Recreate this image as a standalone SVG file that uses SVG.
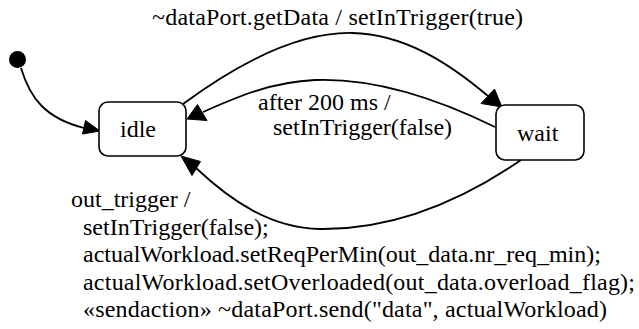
<svg xmlns="http://www.w3.org/2000/svg" width="639" height="329" viewBox="0 0 639 329">
<style>
.t{font-family:'Liberation Serif','Times New Roman',serif;font-size:24px;fill:#000}
.st{fill:#fff;stroke:#000;stroke-width:1.6}
.e{fill:none;stroke:#000;stroke-width:1.8}
.h{fill:#000;stroke:#000;stroke-width:1}
</style>
<rect width="639" height="329" fill="#fff"/>
<g id="connectors">
<path class="e" d="M21,68 C30,98 45,118 84,128"/>
<polygon class="h" points="100,131 82.5,134 85.5,120.5"/>
<path class="e" d="M183,104 C240,62 300,32 352,33 C405,34 450,64 488,96"/>
<polygon class="h" points="502,107 481,103.5 494.5,89"/>
<path class="e" d="M495,127 C430,95 370,78 315,80 C270,82 235,98 203,112"/>
<polygon class="h" points="187,119 197.5,104.5 207,120.5"/>
<path class="e" d="M521,160 C470,195 400,230 320,229 C270,228 230,200 196,168"/>
<polygon class="h" points="181,156 200.5,161.5 192,175.5"/>
</g>
<g id="init"><circle cx="17.5" cy="59.5" r="8.5" fill="#000"/></g>
<g id="idle">
<rect class="st" x="99" y="102" width="87" height="54" rx="9"/>
<text class="t" x="120" y="137">idle</text>
</g>
<g id="wait">
<rect class="st" x="496" y="105" width="88" height="55" rx="9"/>
<text class="t" x="517" y="141">wait</text>
</g>
<g id="labels">
<text class="t" x="152" y="25" textLength="371" lengthAdjust="spacing">~dataPort.getData / setInTrigger(true)</text>
<text class="t" x="258" y="110">after 200 ms /</text>
<text class="t" x="273" y="135">setInTrigger(false)</text>
<text class="t" x="71" y="207">out_trigger /</text>
<text class="t" x="83" y="234.5">setInTrigger(false);</text>
<text class="t" x="83" y="262">actualWorkload.setReqPerMin(out_data.nr_req_min);</text>
<text class="t" x="83" y="289.5" textLength="552" lengthAdjust="spacing">actualWorkload.setOverloaded(out_data.overload_flag);</text>
<text class="t" x="83" y="317" textLength="524" lengthAdjust="spacing">«sendaction» ~dataPort.send("data", actualWorkload)</text>
</g>
</svg>
